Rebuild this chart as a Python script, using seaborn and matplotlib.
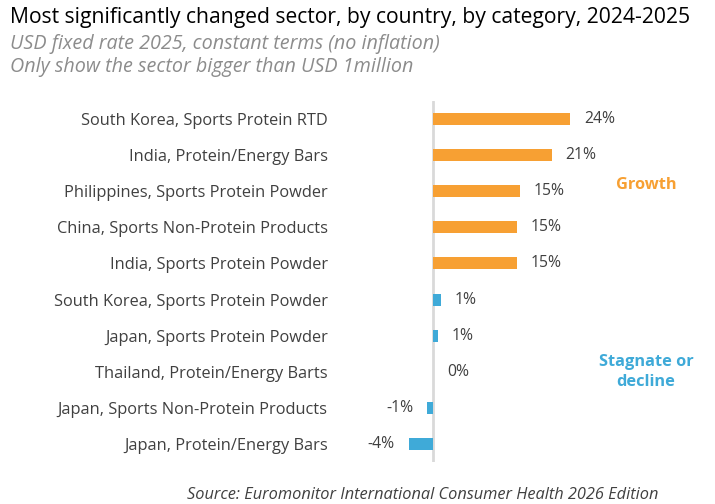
import matplotlib
matplotlib.use("Agg")
import matplotlib.pyplot as plt
import seaborn as sns

sectores = [
    "South Korea, Sports Protein RTD",
    "India, Protein/Energy Bars",
    "Philippines, Sports Protein Powder",
    "China, Sports Non-Protein Products",
    "India, Sports Protein Powder",
    "South Korea, Sports Protein Powder",
    "Japan, Sports Protein Powder",
    "Thailand, Protein/Energy Barts",
    "Japan, Sports Non-Protein Products",
    "Japan, Protein/Energy Bars",
]
cambio = [24.3, 21.0, 15.4, 14.9, 14.9, 1.4, 0.8, 0.0, -1.0, -4.3]
etiquetas = ["24%", "21%", "15%", "15%", "15%", "1%", "1%", "0%", "-1%", "-4%"]
grupo = ["Growth"] * 5 + ["Stagnate"] * 5

naranja = "#F7A033"
azul = "#3FAAD8"
colores = {"Growth": naranja, "Stagnate": azul}

sns.set_theme(style="white")
plt.rcParams["font.family"] = ["Open Sans", "DejaVu Sans"]

fig = plt.figure(figsize=(7.15, 5.04), dpi=100)
ax = fig.add_axes([400 / 715, 1 - 462 / 504, 190 / 715, 361 / 504])

paleta = [colores[g] for g in grupo]
sns.barplot(x=cambio, y=sectores, hue=sectores, palette=paleta, legend=False,
            width=0.33, orient="h", ax=ax, linewidth=0, saturation=1)

ax.set_xlim(-5.84, 27.8)
ax.set_ylim(9.5, -0.5)
ax.axvline(0, color="#d9d9d9", lw=2, zorder=0)
for s in ax.spines.values():
    s.set_visible(False)
ax.set_xticks([])
ax.tick_params(axis="y", length=0, pad=52, labelsize=11.8, labelcolor="#404040")
ax.set_xlabel("")
ax.set_ylabel("")

for i, (v, t) in enumerate(zip(cambio, etiquetas)):
    if v < 0:
        ax.annotate(t, (v, i), xytext=(-10, 0), textcoords="offset points",
                    ha="right", va="center", fontsize=11.3, color="#404040")
    else:
        ax.annotate(t, (v, i), xytext=(10, 0), textcoords="offset points",
                    ha="left", va="center", fontsize=11.3, color="#404040")

fig.text(646 / 715, 1 - 185 / 504, "Growth", color=naranja, fontsize=11.8,
         fontweight="bold", ha="center", va="center")
fig.text(646 / 715, 1 - 372 / 504, "Stagnate or\ndecline", color=azul, fontsize=11.8,
         fontweight="bold", ha="center", va="center", linespacing=1.4)

fig.text(10 / 715, 1 - 17 / 504, "Most significantly changed sector, by country, by category, 2024-2025",
         fontsize=15.2, color="black", ha="left", va="center")
fig.text(10 / 715, 1 - 44 / 504, "USD fixed rate 2025, constant terms (no inflation)",
         fontsize=14.2, color="#8c8c8c", style="italic", ha="left", va="center")
fig.text(10 / 715, 1 - 67 / 504, "Only show the sector bigger than USD 1million",
         fontsize=14.2, color="#8c8c8c", style="italic", ha="left", va="center")
fig.text(423 / 715, 1 - 495 / 504, "Source: Euromonitor International Consumer Health 2026 Edition",
         fontsize=11.8, color="#404040", style="italic", ha="center", va="center")

fig.savefig("out.png", dpi=100)
